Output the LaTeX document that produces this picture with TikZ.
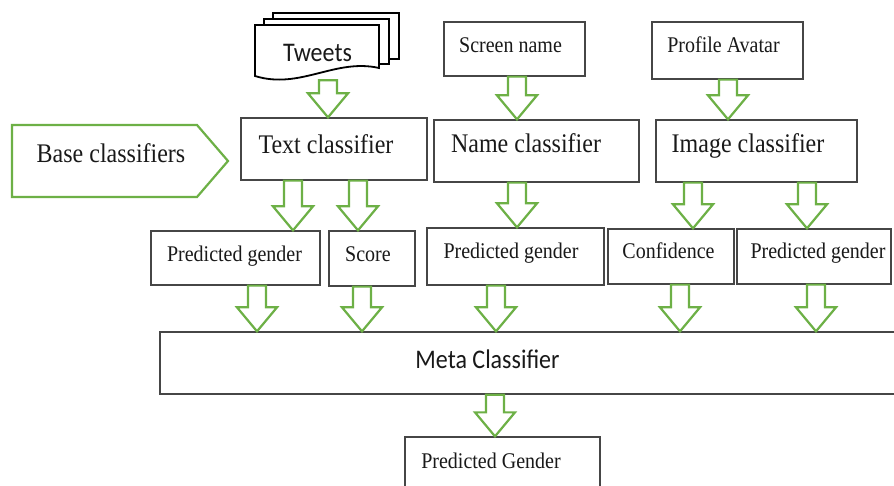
\documentclass[tikz,border=0pt]{standalone}
\usepackage{fontspec}
\setmainfont{Liberation Serif}
\newfontfamily\calfont{Carlito}
\usepackage{graphicx}
\usetikzlibrary{calc}
\definecolor{grn}{RGB}{109,176,70}
\definecolor{bord}{RGB}{70,70,70}
\definecolor{txt}{RGB}{25,25,25}
\newcommand\vs[1]{\scalebox{1}[1.12]{#1}}
\newcommand\bx[5]{\node[box,minimum width={(#4-#2)*1pt},minimum height={(#5-#3)*1pt}] (#1) at ({(#2+#4)/2},{(#3+#5)/2}) {};}
\newcommand\barrow[3]{\draw[garrow] let \p1=(#1,0 |- #2.south), \p2=(#1,0 |- #3.north) in
  (\x1-9pt,\y1) -- (\x1-9pt,\y2+24pt) -- (\x1-20pt,\y2+24pt) -- (\x1,\y2) -- (\x1+20pt,\y2+24pt) -- (\x1+9pt,\y2+24pt) -- (\x1+9pt,\y1) -- cycle;}
\begin{document}
\begin{tikzpicture}[x=1pt,y=-1pt,
  box/.style={draw=bord,line width=1.3pt,fill=white,inner sep=0pt},
  lbl/.style={anchor=base,inner sep=0pt,text=txt,font=\fontsize{20}{24}\selectfont},
  big/.style={font=\fontsize{24}{28}\selectfont},
  garrow/.style={draw=grn,line width=2.2pt,fill=white,line join=miter},
  doc/.style={draw=black,line width=1.8pt,fill=white,line join=miter}]
\useasboundingbox (0,0) rectangle (894,486);
\clip (0,0) rectangle (894,486);
\fill[white] (0,0) rectangle (894,486);

% Tweets document stack
\draw[doc] (273,13) rectangle (399,59);
\draw[doc] (264,19) rectangle (389,64);
\draw[doc] (255,25) -- (379,25) -- (379,68) .. controls (335,58) and (300,90) .. (255,76) -- cycle;
\node[inner sep=0pt,minimum width=124pt,minimum height=56pt] (tweets) at (317,52) {};
\node[lbl,font=\calfont\fontsize{24}{28}\selectfont] (tweetst) at (317.5,62) {\vs{Tweets}};

% Base classifiers pentagon
\draw[draw=grn,line width=2.2pt,line join=miter] (12,125) -- (197,125) -- (228,161) -- (197,197) -- (12,197) -- cycle;
\node[lbl,big] (base) at (111,163) {\vs{Base classifiers}};

% boxes
\bx{screen}{444}{22}{585}{76}
\bx{avatar}{652}{22}{803}{79}
\bx{textc}{241}{118}{427}{180}
\bx{namec}{434}{120}{639}{182}
\bx{imagec}{656}{120}{857}{182}
\bx{pgA}{151}{231}{320}{285}
\bx{score}{329}{231}{415}{286}
\bx{pgB}{427}{228}{604}{285}
\bx{conf}{608}{229}{734}{284}
\bx{pgC}{737}{229}{891}{284}
\bx{meta}{160}{332}{910}{394}
\bx{final}{405}{437}{600}{500}

% labels
\node[lbl] (screent) at (510.5,53) {\vs{Screen name}};
\node[lbl] (avatart) at (723.5,53) {\vs{Profile Avatar}};
\node[lbl,big] (textct) at (326,154) {\vs{Text classifier}};
\node[lbl,big] (namect) at (526,153) {\vs{Name classifier}};
\node[lbl,big] (imagect) at (748,153) {\vs{Image classifier}};
\node[lbl] (pgAt) at (234.5,262) {\vs{Predicted gender}};
\node[lbl] (scoret) at (368,262) {\vs{Score}};
\node[lbl] (pgBt) at (511,259) {\vs{Predicted gender}};
\node[lbl] (conft) at (668.5,259) {\vs{Confidence}};
\node[lbl] (pgCt) at (818,259) {\vs{Predicted gender}};
\node[lbl,font=\calfont\fontsize{24}{28}\selectfont] (metat) at (487.5,368) {\vs{Meta Classifier}};
\node[lbl] (finalt) at (491,468) {\vs{Predicted Gender}};

% block arrows
\barrow{328}{tweets}{textc}
\barrow{517}{screen}{namec}
\barrow{728}{avatar}{imagec}
\barrow{293}{textc}{pgA}
\barrow{358}{textc}{score}
\barrow{517}{namec}{pgB}
\barrow{693}{imagec}{conf}
\barrow{807}{imagec}{pgC}
\barrow{257}{pgA}{meta}
\barrow{362}{score}{meta}
\barrow{496}{pgB}{meta}
\barrow{680}{conf}{meta}
\barrow{816}{pgC}{meta}
\barrow{495}{meta}{final}
\end{tikzpicture}
\end{document}
